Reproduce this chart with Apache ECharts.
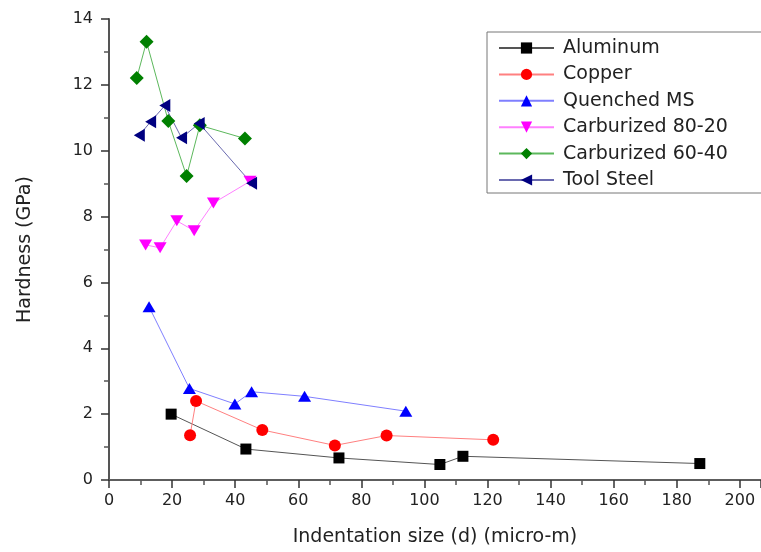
<!DOCTYPE html>
<html>
<head>
<meta charset="utf-8">
<script src="https://cdn.jsdelivr.net/npm/echarts@6/dist/echarts.min.js"></script>
<style>
  html, body { margin: 0; padding: 0; background: #fff; }
  #chart { width: 761px; height: 552px; }
</style>
</head>
<body>
<div id="chart"></div>
<script>
// indentation size (micro-m) and hardness (GPa)
const aluminumX = [19.7, 43.4, 72.9, 104.9, 112.2, 187.3];
const aluminumY = [2.0, 0.94, 0.67, 0.47, 0.72, 0.5];
const copperX = [25.7, 27.6, 48.6, 71.6, 88.0, 121.8];
const copperY = [1.36, 2.4, 1.52, 1.05, 1.35, 1.22];
const quenchedX = [12.7, 25.5, 39.9, 45.2, 62.0, 94.1];
const quenchedY = [5.26, 2.78, 2.31, 2.68, 2.54, 2.09];
const carb8020X = [11.6, 16.2, 21.5, 27.0, 33.1, 44.7];
const carb8020Y = [7.14, 7.05, 7.87, 7.57, 8.41, 9.07];
const carb6040X = [8.8, 11.9, 18.8, 24.6, 28.8, 43.1];
const carb6040Y = [12.21, 13.31, 10.9, 9.23, 10.77, 10.37];
const toolX = [9.6, 13.2, 17.7, 23.0, 28.6, 45.2];
const toolY = [10.47, 10.88, 11.37, 10.39, 10.83, 9.01];

const pairs = (xs, ys) => xs.map((x, i) => [x, ys[i]]);

const chart = echarts.init(document.getElementById('chart'));

const font = 'DejaVu Sans';
// the plot runs off the right edge of the picture a little past 200
const xMax = 206.7;

function makeSeries(name, data, symbol, size, rotate, markColor, lineColor) {
  return {
    name: name,
    type: 'line',
    data: data,
    symbol: symbol,
    symbolSize: size,
    symbolRotate: rotate,
    showAllSymbol: true,
    animation: false,
    itemStyle: { color: markColor },
    lineStyle: { color: lineColor, width: 1 },
    emphasis: { disabled: true }
  };
}

const option = {
  backgroundColor: '#fff',
  animation: false,
  grid: {
    left: 109,
    top: 19,
    right: 0,
    bottom: 70
  },
  legend: {
    orient: 'vertical',
    left: 487,
    top: 32,
    padding: [6, 40, 3, 11],
    itemGap: 6.4,
    itemWidth: 55,
    itemHeight: 14,
    borderColor: '#777',
    borderWidth: 1,
    backgroundColor: '#fff',
    textStyle: {
      fontFamily: font,
      fontSize: 19,
      lineHeight: 20,
      color: '#222',
      padding: [0, 0, 0, 4]
    },
    data: ['Aluminum', 'Copper', 'Quenched MS', 'Carburized 80-20', 'Carburized 60-40', 'Tool Steel']
  },
  xAxis: [
    {
      type: 'value',
      min: 0,
      max: xMax,
      interval: 20,
      name: 'Indentation size (d) (micro-m)',
      nameLocation: 'middle',
      nameGap: 48,
      nameTextStyle: { fontFamily: font, fontSize: 19, color: '#222' },
      axisLine: { show: true, onZero: false, lineStyle: { color: '#444', width: 2 } },
      axisTick: { show: true, inside: false, length: 8, lineStyle: { color: '#333', width: 1.5 } },
      minorTick: { show: true, splitNumber: 2, length: 5, lineStyle: { color: '#555', width: 1.5 } },
      axisLabel: {
        margin: 13,
        fontFamily: font,
        fontSize: 16,
        color: '#222',
        showMaxLabel: false
      },
      splitLine: { show: false }
    },
    {
      type: 'value',
      position: 'top',
      min: 0,
      max: xMax,
      axisLine: { show: true, lineStyle: { color: '#666', width: 1.5 } },
      axisTick: { show: false },
      axisLabel: { show: false },
      splitLine: { show: false }
    }
  ],
  yAxis: {
    type: 'value',
    min: 0,
    max: 14,
    interval: 2,
    name: 'Hardness (GPa)',
    nameLocation: 'middle',
    nameGap: 74,
    nameTextStyle: { fontFamily: font, fontSize: 19, color: '#222' },
    axisLine: { show: true, lineStyle: { color: '#555', width: 2 } },
    axisTick: { show: true, inside: false, length: 8, lineStyle: { color: '#333', width: 1.5 } },
    minorTick: { show: true, splitNumber: 2, length: 5, lineStyle: { color: '#555', width: 1.5 } },
    axisLabel: { margin: 16, fontFamily: font, fontSize: 16, color: '#222' },
    splitLine: { show: false }
  },
  series: [
    makeSeries('Aluminum', pairs(aluminumX, aluminumY), 'rect', 11, 0, '#000', '#555'),
    makeSeries('Copper', pairs(copperX, copperY), 'circle', 12, 0, '#ff0000', '#ff8080'),
    makeSeries('Quenched MS', pairs(quenchedX, quenchedY), 'triangle', [13, 11], 0, '#0000ff', '#7f7fff'),
    makeSeries('Carburized 80-20', pairs(carb8020X, carb8020Y), 'triangle', [13, 11], 180, '#ff00ff', '#ff80ff'),
    makeSeries('Carburized 60-40', pairs(carb6040X, carb6040Y), 'diamond', [14, 14], 0, '#008000', '#5cb85c'),
    makeSeries('Tool Steel', pairs(toolX, toolY), 'triangle', [13, 11], 90, '#000080', '#6a6ab0')
  ]
};

chart.setOption(option);
</script>
</body>
</html>
